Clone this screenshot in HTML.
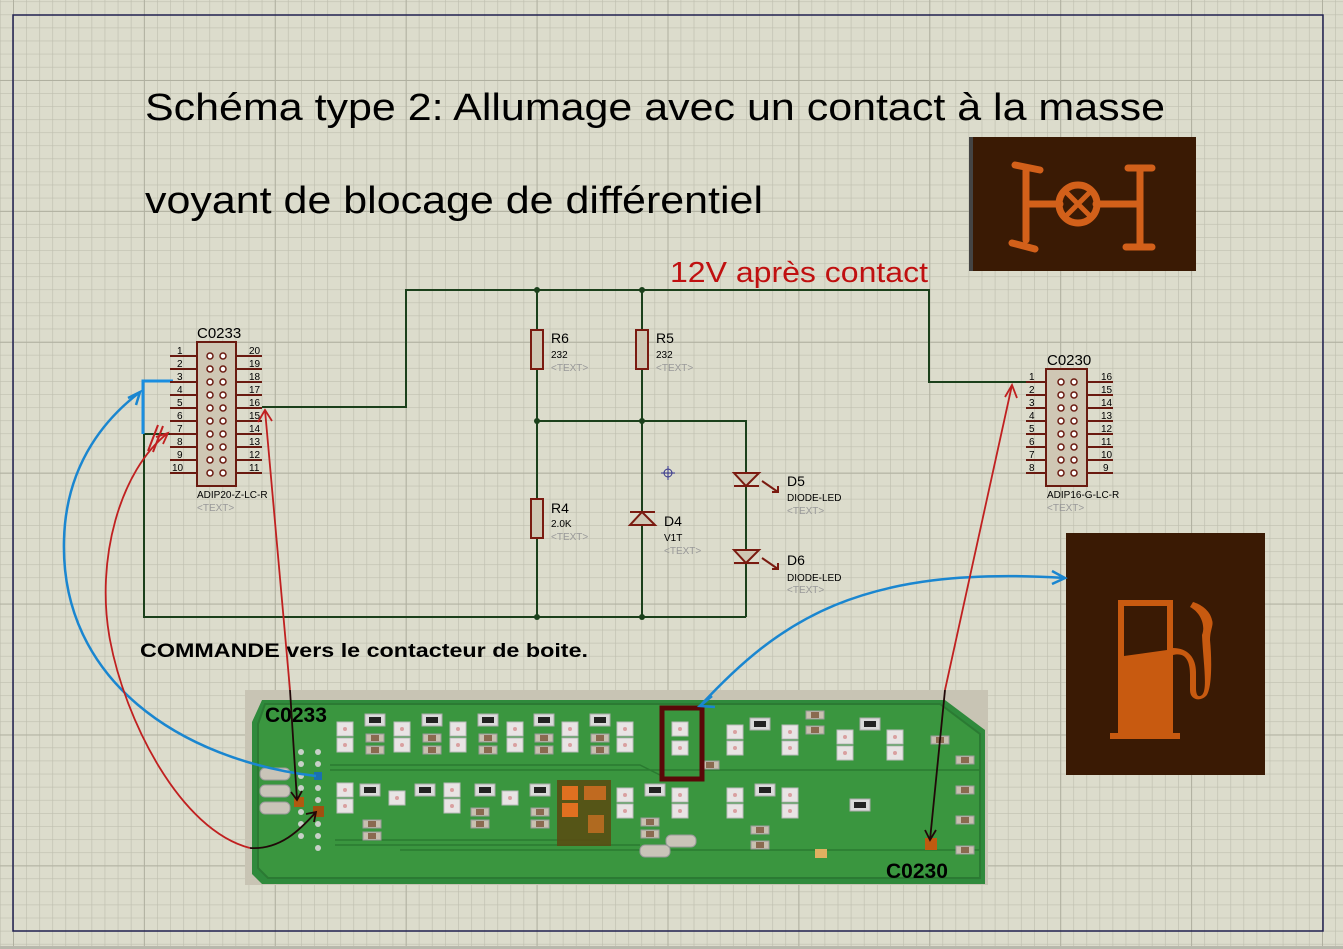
<!DOCTYPE html>
<html><head><meta charset="utf-8"><style>
html,body{margin:0;padding:0;background:#dcdccc;}
svg{display:block;}
text{font-family:"Liberation Sans",sans-serif;}
</style></head><body>
<svg width="1343" height="949" viewBox="0 0 1343 949" xmlns="http://www.w3.org/2000/svg">
<defs>
<pattern id="g" x="13" y="1.4" width="13.09" height="13.09" patternUnits="userSpaceOnUse">
<path d="M0 0H13.09M0 0V13.09" stroke="#bfbfaf" stroke-width="1.3" fill="none"/>
</pattern>
<pattern id="G" x="13" y="80" width="130.9" height="130.9" patternUnits="userSpaceOnUse">
<path d="M0 0H130.9M0 0V130.9" stroke="#b0b0a0" stroke-width="2" fill="none"/>
</pattern>
<g id="led"><rect x="-8" y="-7" width="16" height="14" fill="#e8e4e4" stroke="#bbb"/><circle cx="0" cy="0" r="2" fill="#d9a0a0"/></g>
<g id="res"><rect x="-10" y="-6" width="20" height="12" fill="#dadada" stroke="#aaa"/><rect x="-6" y="-3" width="12" height="6" fill="#222"/></g>
<g id="cap"><rect x="-9" y="-4" width="18" height="8" fill="#c8c0b0" stroke="#999"/><rect x="-4" y="-3" width="8" height="6" fill="#8a6a50"/></g>
</defs>
<rect width="1343" height="949" fill="#dcdccc"/>
<rect width="1343" height="949" fill="url(#g)"/>
<rect width="1343" height="949" fill="url(#G)"/>
<rect x="13" y="15" width="1310" height="916" fill="none" stroke="#202050" stroke-width="1.5"/>
<rect x="0" y="946" width="1343" height="3" fill="#b8b8ac"/>

<text x="145" y="120" font-size="38" fill="#000" textLength="1020" lengthAdjust="spacingAndGlyphs">Schéma type 2: Allumage avec un contact à la masse</text>
<text x="145" y="213" font-size="38" fill="#000" textLength="618" lengthAdjust="spacingAndGlyphs">voyant de blocage de différentiel</text>
<text x="670" y="282" font-size="29" fill="#c01010" textLength="258" lengthAdjust="spacingAndGlyphs">12V après contact</text>

<!-- photo 1 -->
<rect x="969" y="137" width="227" height="134" fill="#3a1a04"/>
<rect x="969" y="137" width="4" height="134" fill="#444"/>
<g stroke="#d2601a" stroke-width="7" fill="none" stroke-linecap="round">
<path d="M1015 165 L1040 170 M1026 168 L1026 240 M1012 243 L1035 249 M1026 204 L1060 204 M1096 204 L1140 204 M1128 168 L1152 168 M1140 168 L1140 247 M1126 247 L1152 247"/>
<circle cx="1078" cy="204" r="19"/>
<path d="M1067 193 L1089 215 M1089 193 L1067 215" stroke-width="5"/>
</g>
<!-- photo 2 -->
<rect x="1066" y="533" width="199" height="242" fill="#3a1a04"/>
<g fill="#c85a10">
<path d="M1118 600 H1173 V733 H1180 V739 H1110 V733 H1118 Z M1124 606 H1167 V650 L1124 656 Z" fill-rule="evenodd"/>
<path d="M1173 655 C1185 652 1190 660 1190 675 V690 C1190 700 1200 702 1206 696 C1212 690 1212 660 1210 640 C1210 630 1214 625 1212 620 C1210 610 1200 604 1193 602 L1190 607 C1200 612 1206 625 1202 635 C1203 660 1208 690 1202 695 C1198 698 1196 695 1196 688 V672 C1196 658 1188 648 1173 648 Z"/>
</g>

<!-- wires -->
<g stroke="#1b401b" stroke-width="2" fill="none">
<path d="M262 407 H406 V290 H929 V382 H1028"/>
<path d="M537 290 V617 M642 290 V617 M537 421 H746 V617 M144 434 V617 H746 M144 434 H170"/>
</g>
<g fill="#1b401b"><circle cx="537" cy="290" r="3"/><circle cx="642" cy="290" r="3"/><circle cx="537" cy="421" r="3"/><circle cx="642" cy="421" r="3"/><circle cx="537" cy="617" r="3"/><circle cx="642" cy="617" r="3"/></g>
<path d="M173 381 H143 V434" stroke="#1a8ee0" stroke-width="3" fill="none"/>

<!-- resistors -->
<g fill="#cfc7b4" stroke="#7a1a10" stroke-width="2">
<rect x="531" y="330" width="12" height="39"/><rect x="636" y="330" width="12" height="39"/><rect x="531" y="499" width="12" height="39"/>
</g>
<g font-size="14"><text x="551" y="343">R6</text><text x="656" y="343">R5</text><text x="551" y="513">R4</text><text x="664" y="526">D4</text><text x="787" y="486">D5</text><text x="787" y="565">D6</text></g>
<g font-size="10"><text x="551" y="358">232</text><text x="656" y="358">232</text><text x="551" y="527">2.0K</text><text x="664" y="541">V1T</text><text x="787" y="501">DIODE-LED</text><text x="787" y="581">DIODE-LED</text></g>
<g font-size="10" fill="#999"><text x="551" y="371">&lt;TEXT&gt;</text><text x="656" y="371">&lt;TEXT&gt;</text><text x="551" y="540">&lt;TEXT&gt;</text><text x="664" y="554">&lt;TEXT&gt;</text><text x="787" y="514">&lt;TEXT&gt;</text><text x="787" y="593">&lt;TEXT&gt;</text></g>
<!-- diodes -->
<g stroke="#7a1a10" stroke-width="2" fill="#cfc7b4">
<path d="M630 525 H655 L642 512 Z"/><path d="M630 512 H655"/>
<path d="M734 473 H759 L746 486 Z"/><path d="M734 486 H759"/>
<path d="M734 550 H759 L746 563 Z"/><path d="M734 563 H759"/>
<path d="M762 481 L778 492 M772 492 H778 V486 M762 558 L778 569 M772 569 H778 V563" fill="none"/>
</g>
<g stroke="#33338a" fill="none" stroke-width="1"><circle cx="668" cy="473" r="4"/><path d="M661 473 H675 M668 466 V480"/></g>

<!-- C0233 -->
<text x="197" y="338" font-size="15">C0233</text>
<rect x="197" y="342" width="39" height="144" fill="#cfc7b4" stroke="#6a1a10" stroke-width="2"/>
<g stroke="#6a1a10" stroke-width="2">
<path d="M170 356H197M170 369H197M170 382H197M170 395H197M170 408H197M170 421H197M170 434H197M170 447H197M170 460H197M170 473H197"/>
<path d="M236 356H262M236 369H262M236 382H262M236 395H262M236 408H262M236 421H262M236 434H262M236 447H262M236 460H262M236 473H262"/>
</g>
<g fill="#fff" stroke="#6a1a10" stroke-width="1.5">
<circle cx="210" cy="356" r="3"/><circle cx="223" cy="356" r="3"/><circle cx="210" cy="369" r="3"/><circle cx="223" cy="369" r="3"/><circle cx="210" cy="382" r="3"/><circle cx="223" cy="382" r="3"/><circle cx="210" cy="395" r="3"/><circle cx="223" cy="395" r="3"/><circle cx="210" cy="408" r="3"/><circle cx="223" cy="408" r="3"/><circle cx="210" cy="421" r="3"/><circle cx="223" cy="421" r="3"/><circle cx="210" cy="434" r="3"/><circle cx="223" cy="434" r="3"/><circle cx="210" cy="447" r="3"/><circle cx="223" cy="447" r="3"/><circle cx="210" cy="460" r="3"/><circle cx="223" cy="460" r="3"/><circle cx="210" cy="473" r="3"/><circle cx="223" cy="473" r="3"/>
</g>
<g font-size="10">
<text x="177" y="354">1</text><text x="177" y="367">2</text><text x="177" y="380">3</text><text x="177" y="393">4</text><text x="177" y="406">5</text><text x="177" y="419">6</text><text x="177" y="432">7</text><text x="177" y="445">8</text><text x="177" y="458">9</text><text x="172" y="471">10</text>
<text x="249" y="354">20</text><text x="249" y="367">19</text><text x="249" y="380">18</text><text x="249" y="393">17</text><text x="249" y="406">16</text><text x="249" y="419">15</text><text x="249" y="432">14</text><text x="249" y="445">13</text><text x="249" y="458">12</text><text x="249" y="471">11</text>
<text x="197" y="498">ADIP20-Z-LC-R</text><text x="197" y="511" fill="#999">&lt;TEXT&gt;</text>
</g>

<!-- C0230 -->
<text x="1047" y="365" font-size="15">C0230</text>
<rect x="1046" y="369" width="41" height="117" fill="#cfc7b4" stroke="#6a1a10" stroke-width="2"/>
<g stroke="#6a1a10" stroke-width="2">
<path d="M1026 382H1046M1026 395H1046M1026 408H1046M1026 421H1046M1026 434H1046M1026 447H1046M1026 460H1046M1026 473H1046"/>
<path d="M1087 382H1113M1087 395H1113M1087 408H1113M1087 421H1113M1087 434H1113M1087 447H1113M1087 460H1113M1087 473H1113"/>
</g>
<g fill="#fff" stroke="#6a1a10" stroke-width="1.5">
<circle cx="1061" cy="382" r="3"/><circle cx="1074" cy="382" r="3"/><circle cx="1061" cy="395" r="3"/><circle cx="1074" cy="395" r="3"/><circle cx="1061" cy="408" r="3"/><circle cx="1074" cy="408" r="3"/><circle cx="1061" cy="421" r="3"/><circle cx="1074" cy="421" r="3"/><circle cx="1061" cy="434" r="3"/><circle cx="1074" cy="434" r="3"/><circle cx="1061" cy="447" r="3"/><circle cx="1074" cy="447" r="3"/><circle cx="1061" cy="460" r="3"/><circle cx="1074" cy="460" r="3"/><circle cx="1061" cy="473" r="3"/><circle cx="1074" cy="473" r="3"/>
</g>
<g font-size="10">
<text x="1029" y="380">1</text><text x="1029" y="393">2</text><text x="1029" y="406">3</text><text x="1029" y="419">4</text><text x="1029" y="432">5</text><text x="1029" y="445">6</text><text x="1029" y="458">7</text><text x="1029" y="471">8</text>
<text x="1101" y="380">16</text><text x="1101" y="393">15</text><text x="1101" y="406">14</text><text x="1101" y="419">13</text><text x="1101" y="432">12</text><text x="1101" y="445">11</text><text x="1101" y="458">10</text><text x="1103" y="471">9</text>
<text x="1047" y="498">ADIP16-G-LC-R</text><text x="1047" y="511" fill="#999">&lt;TEXT&gt;</text>
</g>

<text x="140" y="657" font-size="19" font-weight="bold" textLength="448" lengthAdjust="spacingAndGlyphs">COMMANDE vers le contacteur de boite.</text>

<!-- PCB -->
<rect x="245" y="690" width="743" height="195" fill="#c8c4b4"/>
<path d="M262 700 H945 L985 730 V884 H262 L252 874 V722 Z" fill="#2f8a3c"/>
<path d="M265 704 H940 L980 734 V878 H268 L258 868 V724 Z" fill="#3a963f" stroke="#2b7a33" stroke-width="2"/>
<g stroke="#2a7a30" stroke-width="1.5" fill="none"><path d="M330 770 H980 M330 765 H640 L660 775 M335 845 H640 M335 840 H600 M400 850 H980"/></g>
<g>
<use href="#led" x="345" y="729"/><use href="#led" x="345" y="745"/><use href="#led" x="402" y="729"/><use href="#led" x="402" y="745"/><use href="#led" x="458" y="729"/><use href="#led" x="458" y="745"/><use href="#led" x="515" y="729"/><use href="#led" x="515" y="745"/><use href="#led" x="570" y="729"/><use href="#led" x="570" y="745"/><use href="#led" x="625" y="729"/><use href="#led" x="625" y="745"/><use href="#led" x="680" y="729"/><use href="#led" x="680" y="748"/><use href="#led" x="735" y="732"/><use href="#led" x="735" y="748"/><use href="#led" x="790" y="732"/><use href="#led" x="790" y="748"/><use href="#led" x="845" y="737"/><use href="#led" x="845" y="753"/><use href="#led" x="895" y="737"/><use href="#led" x="895" y="753"/>
<use href="#res" x="375" y="720"/><use href="#res" x="432" y="720"/><use href="#res" x="488" y="720"/><use href="#res" x="544" y="720"/><use href="#res" x="600" y="720"/><use href="#res" x="760" y="724"/><use href="#res" x="870" y="724"/>
<use href="#cap" x="375" y="738"/><use href="#cap" x="375" y="750"/><use href="#cap" x="432" y="738"/><use href="#cap" x="432" y="750"/><use href="#cap" x="488" y="738"/><use href="#cap" x="488" y="750"/><use href="#cap" x="544" y="738"/><use href="#cap" x="544" y="750"/><use href="#cap" x="600" y="738"/><use href="#cap" x="600" y="750"/><use href="#cap" x="710" y="765"/><use href="#cap" x="815" y="715"/><use href="#cap" x="815" y="730"/><use href="#cap" x="940" y="740"/>
<use href="#led" x="345" y="790"/><use href="#led" x="345" y="806"/><use href="#led" x="397" y="798"/><use href="#led" x="452" y="790"/><use href="#led" x="452" y="806"/><use href="#led" x="510" y="798"/><use href="#led" x="625" y="795"/><use href="#led" x="625" y="811"/><use href="#led" x="680" y="795"/><use href="#led" x="680" y="811"/><use href="#led" x="735" y="795"/><use href="#led" x="735" y="811"/><use href="#led" x="790" y="795"/><use href="#led" x="790" y="811"/>
<use href="#res" x="370" y="790"/><use href="#res" x="425" y="790"/><use href="#res" x="485" y="790"/><use href="#res" x="540" y="790"/><use href="#res" x="655" y="790"/><use href="#res" x="765" y="790"/><use href="#res" x="860" y="805"/>
<use href="#cap" x="372" y="824"/><use href="#cap" x="372" y="836"/><use href="#cap" x="480" y="812"/><use href="#cap" x="480" y="824"/><use href="#cap" x="540" y="812"/><use href="#cap" x="540" y="824"/><use href="#cap" x="650" y="822"/><use href="#cap" x="650" y="834"/><use href="#cap" x="760" y="830"/><use href="#cap" x="760" y="845"/><use href="#cap" x="965" y="760"/><use href="#cap" x="965" y="790"/><use href="#cap" x="965" y="820"/><use href="#cap" x="965" y="850"/>
</g>
<g fill="#c9c4b8" stroke="#999"><rect x="260" y="768" width="30" height="12" rx="5"/><rect x="260" y="785" width="30" height="12" rx="5"/><rect x="260" y="802" width="30" height="12" rx="5"/><rect x="666" y="835" width="30" height="12" rx="5"/><rect x="640" y="845" width="30" height="12" rx="5"/></g>
<g fill="#c8d0c8"><circle cx="301" cy="752" r="3"/><circle cx="301" cy="764" r="3"/><circle cx="301" cy="776" r="3"/><circle cx="301" cy="788" r="3"/><circle cx="301" cy="812" r="3"/><circle cx="301" cy="824" r="3"/><circle cx="301" cy="836" r="3"/><circle cx="318" cy="752" r="3"/><circle cx="318" cy="764" r="3"/><circle cx="318" cy="788" r="3"/><circle cx="318" cy="800" r="3"/><circle cx="318" cy="824" r="3"/><circle cx="318" cy="836" r="3"/><circle cx="318" cy="848" r="3"/></g>
<rect x="314" y="772" width="8" height="8" fill="#1a70b0"/>
<rect x="294" y="797" width="10" height="10" fill="#b05a10"/>
<rect x="313" y="806" width="11" height="11" fill="#a05010"/>
<rect x="557" y="780" width="54" height="66" fill="#5a4a10" opacity="0.85"/>
<rect x="562" y="786" width="16" height="14" fill="#e07020"/><rect x="562" y="803" width="16" height="14" fill="#e07020"/><rect x="584" y="786" width="22" height="14" fill="#c06a20"/><rect x="588" y="815" width="16" height="18" fill="#b06a20"/>
<rect x="662" y="708" width="40" height="71" fill="none" stroke="#5a0808" stroke-width="5"/>
<rect x="925" y="838" width="12" height="12" fill="#c05a10"/>
<rect x="815" y="849" width="12" height="9" fill="#e0b060"/>
<text x="265" y="722" font-size="21" font-weight="bold">C0233</text>
<text x="886" y="878" font-size="21" font-weight="bold">C0230</text>

<!-- arrows -->
<g fill="none" stroke-width="2.5" stroke="#1a86d0">
<path d="M316 776 C180 760 60 680 64 540 C66 460 110 415 140 392"/>
<path d="M128 398 L140 392 L136 405"/>
<path d="M700 706 C780 620 860 565 1065 578"/>
<path d="M1052 571 L1065 578 L1052 584"/>
<path d="M712 696 L700 706 L715 707"/>
</g>
<g fill="none" stroke="#c02020" stroke-width="1.8">
<path d="M265 410 L290 690"/>
<path d="M258 422 L265 410 L272 421"/>
<path d="M168 433 C120 470 95 560 110 640 C125 720 180 830 250 848"/>
<path d="M156 437 L168 433 L163 444"/>
<path d="M148 451 L158 425 M153 452 L163 426" stroke-width="2"/>
<path d="M1012 385 L945 690"/>
<path d="M1005 397 L1012 385 L1017 398"/>
</g>
<g fill="none" stroke="#200808" stroke-width="1.8">
<path d="M290 690 L297 800 M291 792 L297 800 L302 791"/>
<path d="M250 848 C280 850 300 830 316 812 M306 814 L316 812 L314 822"/>
<path d="M945 690 L930 840 M925 830 L930 840 L936 830"/>
</g>
</svg>
</body></html>
